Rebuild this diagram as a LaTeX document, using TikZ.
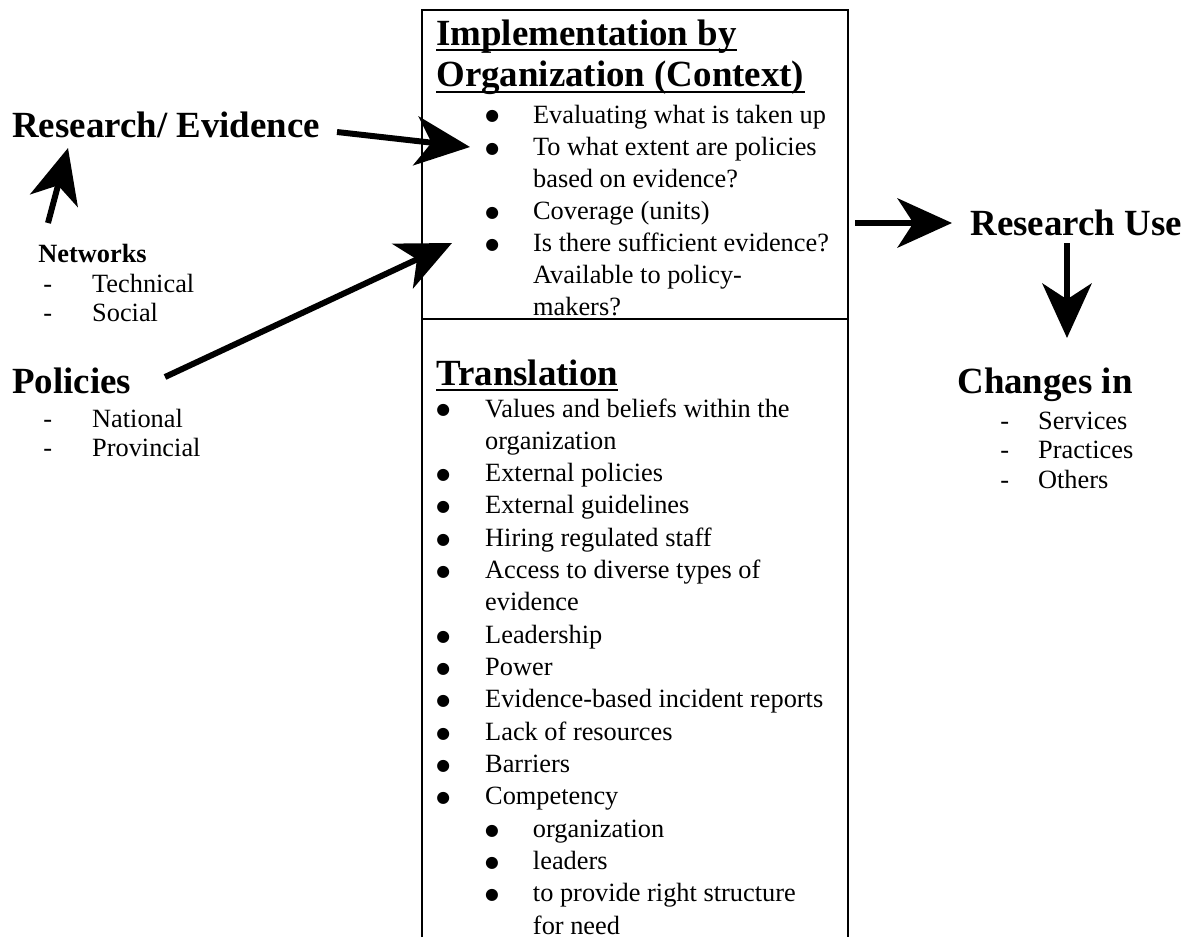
\documentclass[tikz,border=0pt]{standalone}
\usepackage{fontspec}
\setmainfont{Liberation Serif}
\newfontfamily\symfont{DejaVu Sans}
\usetikzlibrary{arrows.meta}
\usetikzlibrary{positioning}

\newcommand{\bul}{\raisebox{1.2pt}{\symfont\fontsize{9}{10}\selectfont ●}}

\begin{document}
\begin{tikzpicture}[x=0.02cm, y=-0.02cm]
	\tikzset{head/.style = {font=\fontsize{21}{25}\selectfont\bfseries, inner sep=0pt, anchor=base west}}
	\tikzset{body/.style = {font=\fontsize{15}{18}\selectfont, inner sep=0pt, anchor=base west}}
	\tikzset{bigarrow/.style = {-{Stealth[length=31pt, width=28pt, inset=9pt]}, line width=3.4pt}}
	\tikzset{boxline/.style = {line width=1.1pt}}
	\tikzset{uline/.style = {line width=1.1pt}}
	
	\useasboundingbox (0,0) rectangle (1190,937);
	
	% box
	\draw[boxline] (422,937) |- (848,10) -- (848,937);
	\draw[boxline] (422,319) -- (848,319);
	
	% left side
	\node[head] (research) at (12,137) {Research/ Evidence};
	\node[body, font=\fontsize{15}{18}\selectfont\bfseries] (networks) at (38,262) {Networks};
	\node[body, font=\fontsize{15}{17}\selectfont] (netlist) at (43,292) {%
		\begin{tabular}[t]{@{}p{27.8pt}@{}l@{}}
			- & Technical\\
			- & Social
		\end{tabular}};
	\node[head] (policies) at (12,393) {Policies};
	\node[body, font=\fontsize{15}{17}\selectfont] (pollist) at (43,427) {%
		\begin{tabular}[t]{@{}p{27.8pt}@{}l@{}}
			- & National\\
			- & Provincial
		\end{tabular}};
	
	% implementation
	\node[head] (impl1) at (436,45) {Implementation by};
	\node[head] (impl2) at (436,86) {Organization (Context)};
	\draw[uline] ([yshift=-2.8pt]impl1.base west) -- ([yshift=-2.8pt]impl1.base east);
	\draw[uline] ([yshift=-3.4pt]impl2.base west) -- ([yshift=-3.4pt]impl2.base east);
	\node[body, font=\fontsize{15}{18.3}\selectfont] (impllist) at (485,123) {%
		\begin{tabular}[t]{@{}p{27.2pt}@{}l@{}}
			\bul & Evaluating what is taken up\\
			\bul & To what extent are policies\\
			& based on evidence?\\
			\bul & Coverage (units)\\
			\bul & Is there sufficient evidence?\\
			& Available to policy-\\
			& makers?
		\end{tabular}};
	
	% translation
	\node[head] (trans) at (436,385) {Translation};
	\draw[uline] ([yshift=-2.8pt]trans.base west) -- ([yshift=-2.8pt]trans.base east);
	\node[body, font=\fontsize{15}{18.4}\selectfont] (translist) at (436,417) {%
		\begin{tabular}[t]{@{}p{27.8pt}@{}l@{}}
			\bul & Values and beliefs within the\\
			& organization\\
			\bul & External policies\\
			\bul & External guidelines\\
			\bul & Hiring regulated staff\\
			\bul & Access to diverse types of\\
			& evidence\\
			\bul & Leadership\\
			\bul & Power\\
			\bul & Evidence-based incident reports\\
			\bul & Lack of resources\\
			\bul & Barriers\\
			\bul & Competency\\
			& \makebox[27.2pt][l]{\bul}organization\\
			& \makebox[27.2pt][l]{\bul}leaders\\
			& \makebox[27.2pt][l]{\bul}to provide right structure\\
			& \hspace*{27.2pt}for need
		\end{tabular}};
	
	% right side
	\node[head] (ruse) at (970,235) {Research Use};
	\node[head] (changes) at (957,393) {Changes in};
	\node[body, font=\fontsize{15}{17}\selectfont] (chlist) at (1000,429) {%
		\begin{tabular}[t]{@{}p{21.5pt}@{}l@{}}
			- & Services\\
			- & Practices\\
			- & Others
		\end{tabular}};
	
	% arrow ends
	\coordinate (evtail) at (337,132);
	\coordinate (evtip) at (470,147);
	\coordinate (nettail) at (48,223);
	\coordinate (nettip) at (68,148);
	\coordinate (poltail) at (165,377);
	\coordinate (poltip) at (452,243);
	\coordinate (usetail) at (855,223);
	\coordinate (usetip) at (952,223);
	\coordinate (chtail) at (1067,243);
	\coordinate (chtip) at (1067,338);
	
	%edges
	\draw[bigarrow] (evtail) -- (evtip);
	\draw[bigarrow] (nettail) -- (nettip);
	\draw[bigarrow] (poltail) -- (poltip);
	\draw[bigarrow] (usetail) -- (usetip);
	\draw[bigarrow] (chtail) -- (chtip);
	
\end{tikzpicture}
\end{document}
